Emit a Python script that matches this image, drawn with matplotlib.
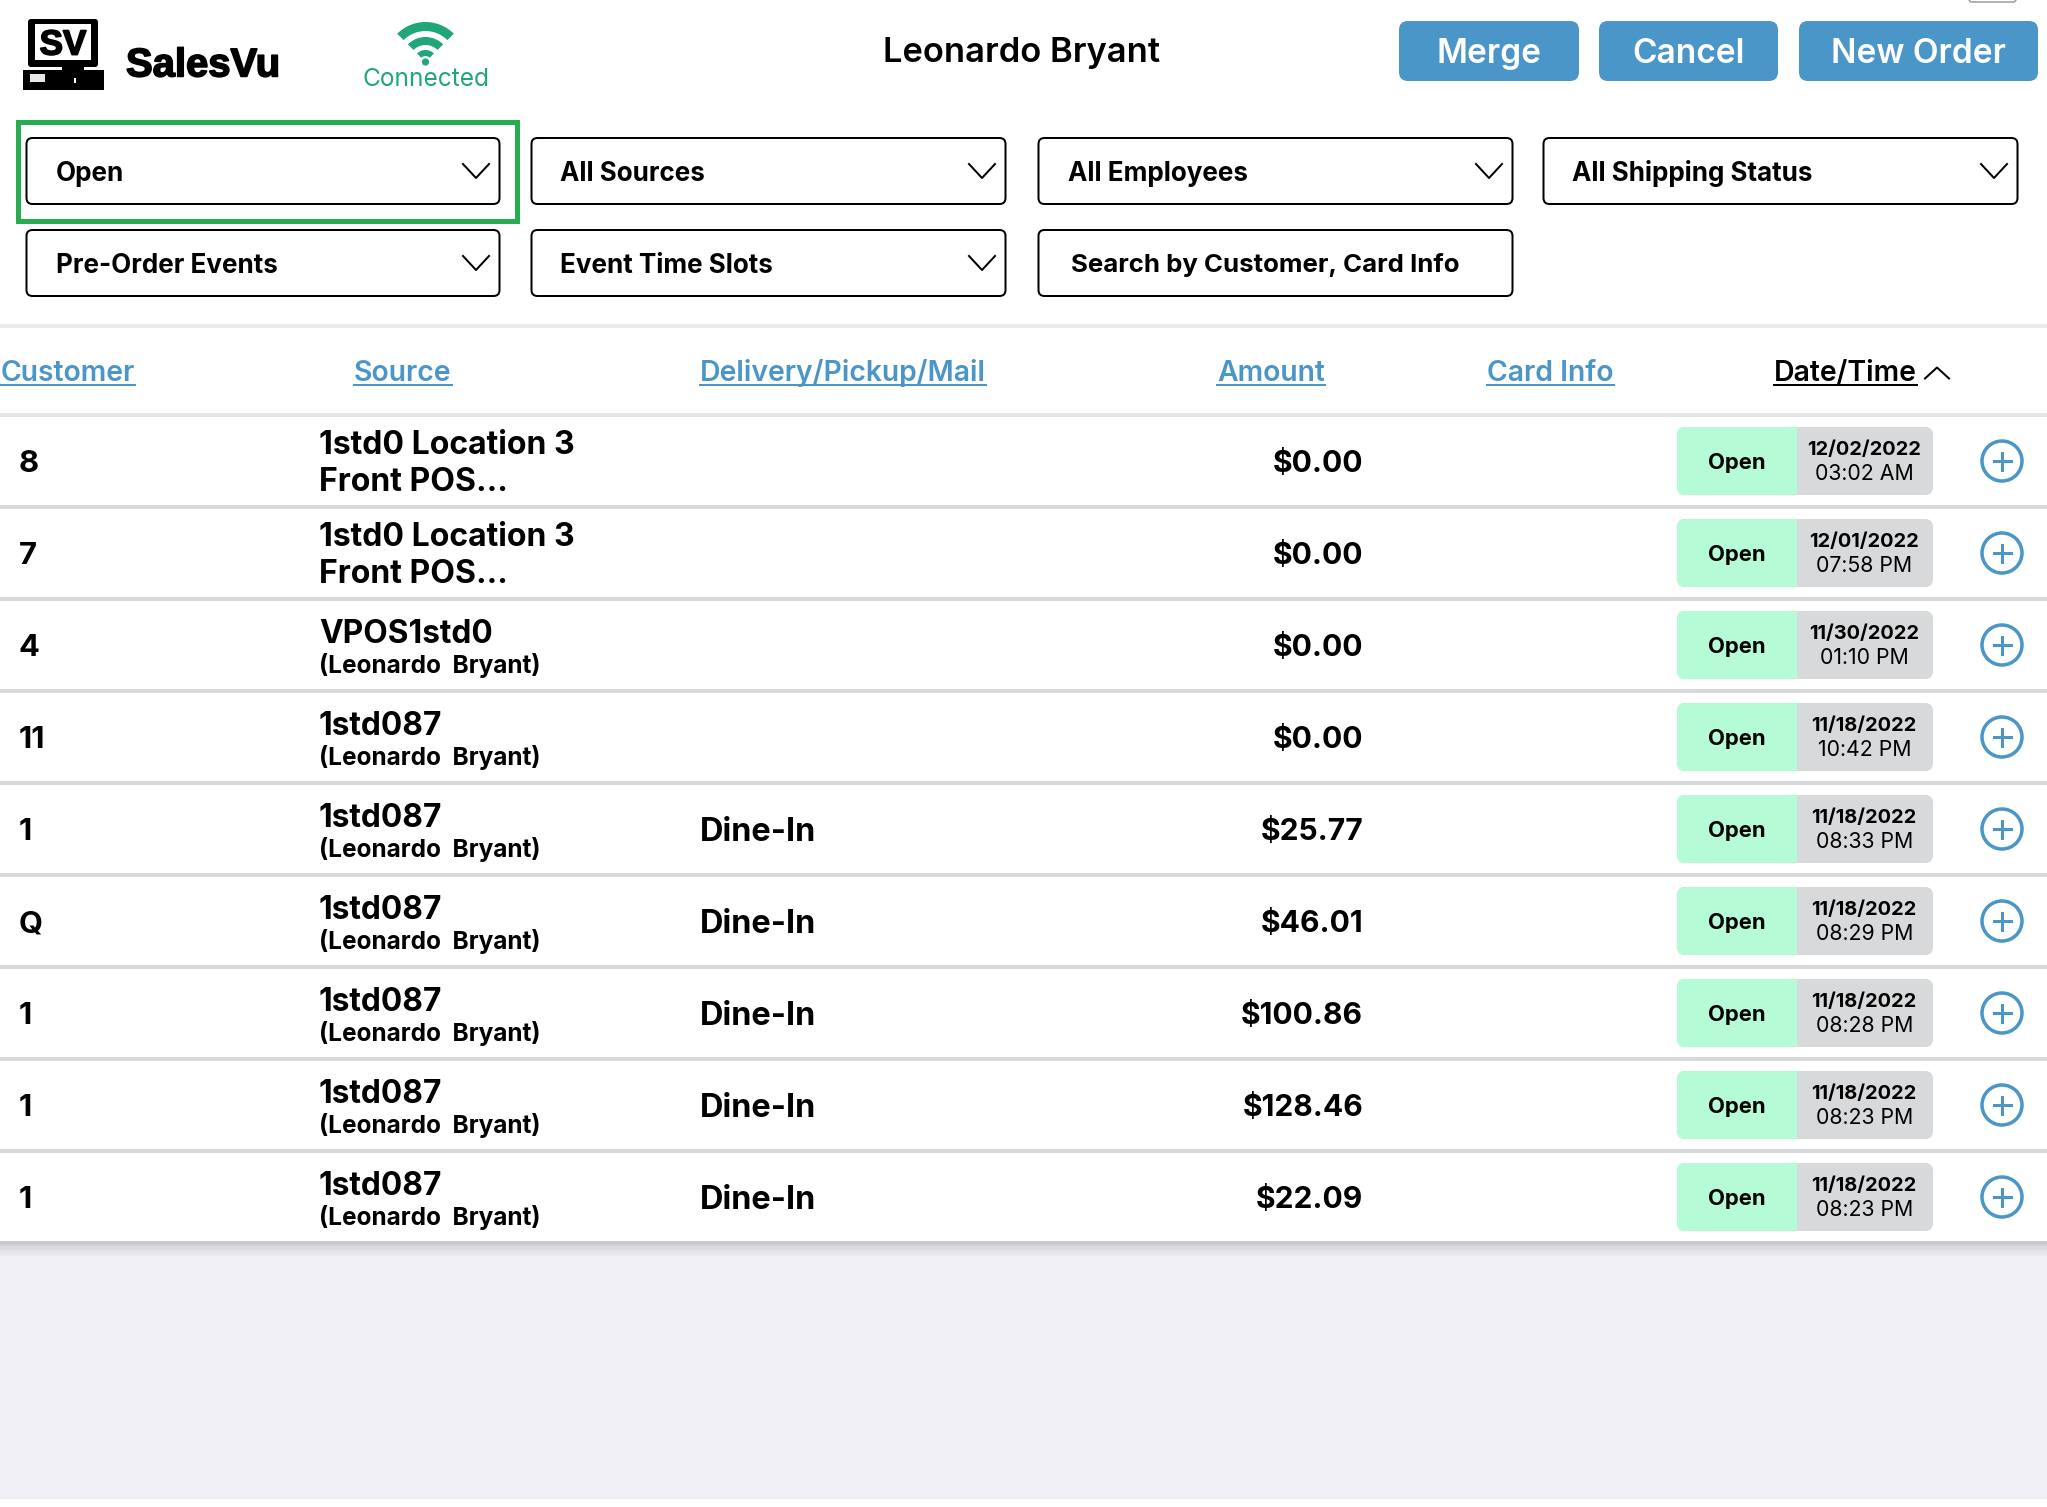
import numpy as np
import matplotlib
matplotlib.use("Agg")
import matplotlib.pyplot as plt
import matplotlib.patheffects as pe
from matplotlib.patches import FancyBboxPatch, Rectangle, Circle, Wedge

plt.rcParams['font.family'] = ['Inter', 'DejaVu Sans']

customers = ["8", "7", "4", "11", "1", "Q", "1", "1", "1"]
sources = ["1std0 Location 3\nFront POS...", "1std0 Location 3\nFront POS...", "VPOS1std0",
           "1std087", "1std087", "1std087", "1std087", "1std087", "1std087"]
employees = ["", "", "(Leonardo  Bryant)", "(Leonardo  Bryant)", "(Leonardo  Bryant)",
             "(Leonardo  Bryant)", "(Leonardo  Bryant)", "(Leonardo  Bryant)", "(Leonardo  Bryant)"]
delivery = ["", "", "", "", "Dine-In", "Dine-In", "Dine-In", "Dine-In", "Dine-In"]
amounts = ["$0.00", "$0.00", "$0.00", "$0.00", "$25.77", "$46.01", "$100.86", "$128.46", "$22.09"]
dates = ["12/02/2022", "12/01/2022", "11/30/2022", "11/18/2022", "11/18/2022",
         "11/18/2022", "11/18/2022", "11/18/2022", "11/18/2022"]
times = ["03:02 AM", "07:58 PM", "01:10 PM", "10:42 PM", "08:33 PM",
         "08:29 PM", "08:28 PM", "08:23 PM", "08:23 PM"]
statuses = ["Open"] * 9

filters_row1 = ["Open", "All Sources", "All Employees", "All Shipping Status"]
filters_row2 = ["Pre-Order Events", "Event Time Slots", "Search by Customer, Card Info"]
headers = ["Customer", "Source", "Delivery/Pickup/Mail", "Amount", "Card Info"]
header_x = [1, 354, 700, 1217, 1487]
buttons = ["Merge", "Cancel", "New Order"]

BLUE = "#4a96c8"
W, H = 2047, 1507

fig = plt.figure(figsize=(W / 100, H / 100), dpi=100)
ax = fig.add_axes([0, 0, 1, 1])
ax.set_xlim(0, W)
ax.set_ylim(H, 0)
ax.axis("off")


def lw(px):
    return px * 0.72


def txt(x, y, s, px, weight="bold", color="black", ha="left", **kw):
    # y is the middle of the capitals
    return ax.text(x, y + 0.36 * px, s, fontsize=px * 0.72, fontweight=weight, color=color,
                   ha=ha, va="baseline", **kw)


def box(x0, y0, x1, y1, r, fc="white", ec="none", width=0, z=2):
    p = FancyBboxPatch((x0, y0), x1 - x0, y1 - y0, boxstyle="round,pad=0,rounding_size=%g" % r,
                       fc=fc, ec=ec, lw=lw(width), zorder=z)
    ax.add_patch(p)
    return p


def chevron(cx, cy, down=True, half=13, h=14):
    d = 1 if down else -1
    ax.plot([cx - half, cx, cx + half], [cy - d * h / 2, cy + d * h / 2, cy - d * h / 2],
            color="black", lw=lw(2), zorder=4)


# page background
ax.add_patch(Rectangle((0, 1241), W, 258, fc="#efeff5", ec="none", zorder=0))
for i, a in enumerate([0.16, 0.12, 0.09, 0.06, 0.04, 0.02]):
    ax.add_patch(Rectangle((0, 1241 + i * 2.5), W, 2.5, fc="black", alpha=a, ec="none", zorder=1))

# battery sliver in the clipped status bar
box(1969, -12, 2016, 2, 3, fc="white", ec="#9a9a9a", width=1.5)

# logo
box(28, 19, 98, 67, 3, fc="black")
ax.add_patch(Rectangle((35, 24), 56, 36, fc="white", ec="none", zorder=3))
ax.add_patch(Rectangle((62, 66), 22, 5, fc="black", ec="none", zorder=2))
ax.add_patch(Rectangle((23, 70), 81, 20, fc="black", ec="none", zorder=2))
ax.add_patch(Rectangle((30, 74), 15, 8, fc="#e8e8e8", ec="none", zorder=3))
ax.add_patch(Rectangle((74, 78), 1.5, 5, fc="white", ec="none", zorder=3))
heavy = [pe.withStroke(linewidth=1.2, foreground="black")]
txt(63, 42, "SV", 35, ha="center", family="Liberation Sans", zorder=4, path_effects=heavy)
txt(126, 62, "SalesVu", 40, family="Liberation Sans", path_effects=heavy)

# wifi icon
GREEN = "#1fa67a"
for r, t in [(40, 9), (25, 8), (12, 6)]:
    ax.add_patch(Wedge((425.5, 62), r, 225, 315, width=t, fc=GREEN, ec="none"))
ax.add_patch(Circle((425.5, 62), 3.6, fc=GREEN, ec="none"))
txt(426, 77, "Connected", 24.5, weight="normal", color=GREEN, ha="center")

txt(1022, 50, "Leonardo Bryant", 34.5, weight="semibold", ha="center")

# buttons
for label, (x0, x1) in zip(buttons, [(1399, 1579), (1599, 1778), (1799, 2038)]):
    box(x0, 21, x1, 81, 9, fc=BLUE)
    txt((x0 + x1) / 2, 51, label, 33.5, weight="semibold", color="white", ha="center", zorder=5)

# filters
columns = [(26, 500), (531, 1006), (1038, 1513), (1543, 2018)]
ax.add_patch(Rectangle((17.5, 122), 499.5, 99, fc="none", ec="#27ad50", lw=lw(5), zorder=3))
for (x0, x1), label in zip(columns, filters_row1):
    box(x0 + 0.5, 138, x1 - 0.5, 204, 6, ec="black", width=2)
    txt(x0 + 29.5, 172, label, 26, zorder=5)
    chevron(x1 - 24, 171)
for i, ((x0, x1), label) in enumerate(zip(columns, filters_row2)):
    box(x0 + 0.5, 230, x1 - 0.5, 296, 6, ec="black", width=2)
    if i < 2:
        txt(x0 + 29.5, 264, label, 26, zorder=5)
        chevron(x1 - 24, 263)
    else:
        txt(x0 + 33, 263, label, 25.8, zorder=5)
ax.plot([0, W], [326, 326], color="#ececec", lw=lw(4), zorder=1)

# header row
fig.canvas.draw()
rend = fig.canvas.get_renderer()


def underlined(x, y, s, px, color):
    t = txt(x, y, s, px, weight="semibold", color=color)
    bb = t.get_window_extent(rend)
    ax.plot([bb.x0, bb.x1], [y + 0.36 * px + 4, y + 0.36 * px + 4], color=color, lw=lw(2), zorder=3)


for label, x in zip(headers, header_x):
    underlined(x, 371, label, 28.4, BLUE)
underlined(1774, 371, "Date/Time", 28.4, "black")
chevron(1937, 373, down=False, half=12, h=11)

# order rows
rows = 461 + 92.0 * np.arange(len(customers))
ax.add_patch(Rectangle((0, 415), W, 826, fc="white", ec="none", zorder=0))
ax.plot([0, W], [415, 415], color="#e6e6e8", lw=lw(4), zorder=1)
for i, y in enumerate(rows):
    if i < len(rows) - 1:
        ax.plot([0, W], [y + 46, y + 46], color="#d9d9dc", lw=lw(4), zorder=1)
    txt(19, y, customers[i], 31)
    if employees[i]:
        txt(319, y - 13, sources[i], 31.7)
        txt(319, y + 19, employees[i], 24.4)
    else:
        a, b = sources[i].split("\n")
        txt(319, y - 18.5, a, 32)
        txt(319, y + 18.5, b, 32)
    if delivery[i]:
        txt(700, y, delivery[i], 32.5)
    txt(1363, y, amounts[i], 30, ha="right")

    # status pill: rounded box with the green end laid over the grey
    box(1677, y - 34, 1933, y + 34, 8, fc="#d8d9db", z=2)
    box(1677, y - 34, 1797, y + 34, 8, fc="#b5fbd6", z=3)
    ax.add_patch(Rectangle((1785, y - 34), 12, 68, fc="#b5fbd6", ec="none", zorder=3))
    txt(1737, y, statuses[i], 22, zorder=5, ha="center")
    txt(1864, y - 13, dates[i], 20, weight="bold", ha="center", zorder=5)
    txt(1864.5, y + 11, times[i], 21.3, weight="normal", ha="center", zorder=5)

    ax.add_patch(Circle((2002, y), 20, fc="white", ec=BLUE, lw=lw(3.5), zorder=3))
    ax.plot([1993.5, 2010.5], [y, y], color=BLUE, lw=lw(3), zorder=4)
    ax.plot([2002, 2002], [y - 8.5, y + 8.5], color=BLUE, lw=lw(3), zorder=4)

fig.savefig("out.png", dpi=100, facecolor="white")
